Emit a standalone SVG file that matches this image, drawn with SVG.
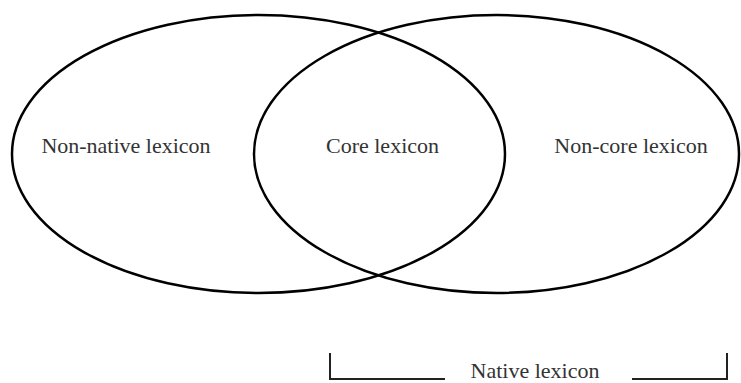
<svg xmlns="http://www.w3.org/2000/svg" width="741" height="383" viewBox="0 0 741 383">
<style>
.set{fill:none;stroke:#000;stroke-width:2.5}
.lbl{font-family:"Liberation Serif","Times New Roman",serif;font-size:22px;fill:#333;text-anchor:middle}
.br{fill:none;stroke:#222;stroke-width:2}
</style>
<rect width="741" height="383" fill="#fff"/>
<g id="non-native">
<ellipse class="set" cx="258.5" cy="154" rx="246.5" ry="139"/>
<text class="lbl" x="126" y="153">Non-native lexicon</text>
</g>
<g id="native-core">
<ellipse class="set" cx="496.5" cy="154" rx="242.5" ry="139"/>
<text class="lbl" x="382.5" y="153">Core lexicon</text>
<text class="lbl" x="631" y="153">Non-core lexicon</text>
</g>
<g id="connectors">
<path class="br" d="M330,353 V379 H445"/>
<path class="br" d="M632,379 H727 V353"/>
</g>
<g id="native-label">
<text class="lbl" x="535" y="378">Native lexicon</text>
</g>
</svg>
